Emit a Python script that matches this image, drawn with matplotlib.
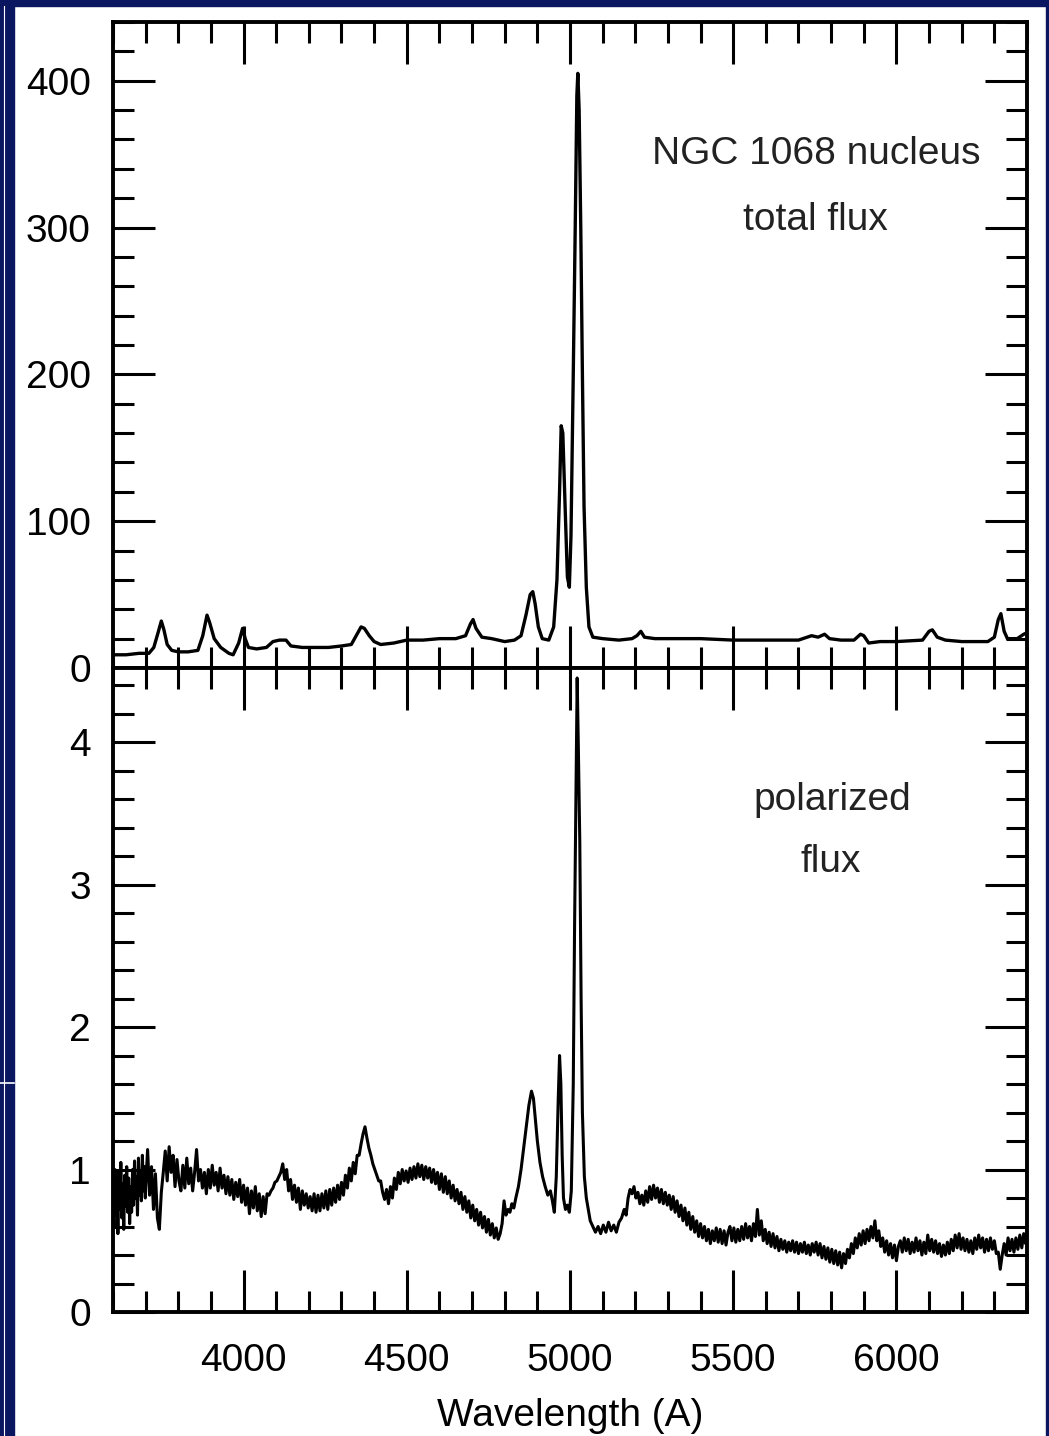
import matplotlib
matplotlib.use("Agg")
from matplotlib import pyplot as plt
from matplotlib.ticker import MultipleLocator
from matplotlib.patches import Rectangle
from matplotlib.lines import Line2D

plt.rcParams['font.family'] = ['Liberation Sans', 'DejaVu Sans']

# total flux spectrum
tot_wave_blue = [3600, 3640, 3680, 3710, 3725, 3738, 3748, 3756, 3766, 3780,
                 3800, 3830, 3860, 3875, 3888, 3896, 3910, 3930, 3955, 3968,
                 3985, 3997, 4005, 4015, 4040, 4070, 4090, 4110, 4130, 4145,
                 4180, 4220, 4260, 4300, 4330, 4345, 4360, 4370, 4385, 4400,
                 4420, 4460, 4500, 4550, 4600, 4650, 4680, 4695, 4703, 4712,
                 4730, 4760, 4800, 4830, 4850, 4865, 4878, 4886, 4893, 4903,
                 4915, 4935]
tot_flux_blue = [9, 9, 10, 10, 14, 24, 32, 26, 16, 12,
                 11, 11, 12, 22, 36, 31, 20, 14, 10, 9,
                 17, 27, 20, 14, 13, 14, 18, 19, 19, 15,
                 14, 14, 14, 15, 16, 22, 28, 27, 22, 18,
                 16, 17, 19, 19, 20, 20, 22, 30, 33, 27,
                 21, 20, 18, 19, 22, 36, 50, 52, 44, 28,
                 20, 19]
tot_wave_oiii = [4950, 4960, 4968, 4973, 4978, 4985, 4992, 4998, 5003, 5010,
                 5016, 5021, 5024, 5028, 5033, 5038, 5043, 5050, 5058, 5070]
tot_flux_oiii = [28, 60, 120, 165, 160, 110, 62, 55, 90, 200,
                 300, 390, 405, 380, 300, 200, 110, 55, 28, 21]
tot_wave_red = [5100, 5150, 5190, 5205, 5217, 5228, 5260, 5300, 5400, 5500,
                5600, 5700, 5740, 5760, 5780, 5795, 5830, 5870, 5890, 5900,
                5915, 5950, 6000, 6080, 6100, 6110, 6125, 6150, 6200, 6280,
                6300, 6312, 6320, 6330, 6340, 6370, 6390, 6400]
tot_flux_red = [20, 19, 20, 22, 25, 21, 20, 20, 20, 19,
                19, 19, 22, 21, 23, 20, 19, 19, 23, 22,
                17, 18, 18, 19, 25, 26, 21, 19, 18, 18,
                21, 33, 37, 25, 20, 20, 23, 24]

# polarized flux spectrum
pol_wave_blue = [3600, 3603, 3606, 3609, 3612, 3615, 3618, 3621, 3624, 3627,
                 3630, 3633, 3636, 3639, 3642, 3645, 3648, 3651, 3654, 3657,
                 3660, 3663, 3666, 3669, 3672, 3675, 3678, 3681, 3684, 3687,
                 3690, 3693, 3696, 3699,
                 3700, 3706, 3712, 3718, 3724, 3730, 3736, 3742, 3748, 3754,
                 3760, 3766, 3772, 3778, 3784, 3790, 3796, 3802, 3808, 3814,
                 3820, 3826, 3832, 3838, 3844, 3850, 3856, 3862, 3868, 3874,
                 3880, 3886, 3892, 3898, 3904, 3910, 3916, 3922, 3928, 3934,
                 3940, 3946, 3952, 3958, 3964, 3970, 3976, 3982, 3988, 3994,
                 4000, 4006, 4012, 4018, 4024, 4030, 4036, 4042, 4048, 4054,
                 4060, 4066, 4072, 4078, 4084, 4090, 4096, 4102, 4108, 4114,
                 4120, 4126, 4132, 4138, 4144, 4150, 4156, 4162, 4168, 4174,
                 4180, 4186, 4192, 4198, 4204, 4210, 4216, 4222, 4228, 4234,
                 4240, 4246, 4252, 4258, 4264, 4270, 4276, 4282, 4288, 4294,
                 4300, 4306, 4312, 4318, 4324, 4330, 4336, 4342, 4348, 4354,
                 4360, 4366, 4372, 4378, 4384, 4390, 4396, 4402, 4408, 4414,
                 4420, 4426, 4432, 4438, 4444, 4450, 4456, 4462, 4468, 4474,
                 4480, 4486, 4492, 4498, 4504, 4510, 4516, 4522, 4528, 4534,
                 4540, 4546, 4552, 4558, 4564, 4570, 4576, 4582, 4588, 4594,
                 4600, 4606, 4612, 4618, 4624, 4630, 4636, 4642, 4648, 4654,
                 4660, 4666, 4672, 4678, 4684, 4690, 4696, 4702, 4708, 4714,
                 4720, 4726, 4732, 4738, 4744, 4750, 4756, 4762, 4768, 4774,
                 4780, 4786, 4792, 4798, 4804, 4810, 4816, 4822, 4828, 4834]
pol_flux_blue = [0.85, 0.60, 1.00, 0.68, 0.92, 0.55, 0.98, 0.72, 1.05, 0.66,
                 0.90, 0.58, 0.96, 0.74, 1.02, 0.70, 0.94, 0.62, 0.88, 0.70,
                 1.00, 0.75, 1.06, 0.80, 0.95, 0.68, 1.08, 0.82, 0.98, 0.78,
                 1.10, 0.85, 1.02, 0.80,
                 0.88, 1.14, 0.82, 1.02, 0.72, 0.97, 0.66, 0.58, 0.84, 0.98,
                 1.13, 0.92, 1.16, 0.98, 1.10, 0.88, 1.07, 0.92, 0.85, 1.03,
                 0.87, 1.08, 0.90, 1.01, 0.85, 0.98, 1.14, 0.92, 1.00, 0.87,
                 0.98, 0.83, 1.00, 0.87, 1.03, 0.89, 0.98, 0.85, 1.01, 0.87,
                 0.96, 0.83, 0.95, 0.82, 0.93, 0.79, 0.91, 0.81, 0.93, 0.77,
                 0.89, 0.75, 0.87, 0.69, 0.85, 0.73, 0.88, 0.71, 0.83, 0.67,
                 0.81, 0.69, 0.83, 0.82, 0.85, 0.87, 0.91, 0.92, 0.95, 0.98,
                 1.04, 0.93, 1.00, 0.85, 0.93, 0.79, 0.89, 0.77, 0.87, 0.72,
                 0.85, 0.75, 0.83, 0.73, 0.81, 0.71, 0.83, 0.70, 0.82, 0.71,
                 0.83, 0.73, 0.85, 0.72, 0.86, 0.75, 0.87, 0.77, 0.89, 0.79,
                 0.91, 0.82, 0.96, 0.87, 1.01, 0.92, 1.05, 0.97, 1.10, 1.10,
                 1.18, 1.25, 1.30, 1.22, 1.15, 1.10, 1.04, 1.00, 0.96, 0.92,
                 0.92, 0.84, 0.79, 0.86, 0.76, 0.88, 0.80, 0.94, 0.86, 0.98,
                 0.90, 1.00, 0.92, 0.99, 0.91, 1.01, 0.93, 1.02, 0.94, 1.04,
                 0.95, 1.03, 0.93, 1.02, 0.94, 1.01, 0.91, 1.00, 0.90, 0.98,
                 0.86, 0.97, 0.84, 0.95, 0.83, 0.92, 0.80, 0.89, 0.78, 0.86,
                 0.76, 0.84, 0.72, 0.81, 0.70, 0.78, 0.66, 0.75, 0.64, 0.72,
                 0.61, 0.70, 0.59, 0.67, 0.56, 0.65, 0.54, 0.62, 0.52, 0.59,
                 0.51, 0.55, 0.62, 0.78, 0.68, 0.72, 0.70, 0.76, 0.73, 0.80]
pol_wave_lines = [4842, 4850, 4858, 4866, 4874, 4882, 4888, 4894, 4900, 4908,
                  4916, 4924, 4932, 4940, 4946, 4952, 4958, 4964, 4968, 4972,
                  4976, 4980, 4986, 4992, 4998, 5004, 5010, 5014, 5018, 5022,
                  5026, 5030, 5034, 5038, 5044, 5050, 5056, 5062, 5070, 5078,
                  5086, 5094, 5102, 5110, 5118, 5126, 5134, 5142, 5150, 5158,
                  5166, 5172, 5178, 5184, 5190, 5196, 5202, 5208, 5214, 5220]
pol_flux_lines = [0.88, 1.00, 1.15, 1.30, 1.45, 1.55, 1.50, 1.35, 1.20, 1.05,
                  0.95, 0.88, 0.82, 0.85, 0.78, 0.70, 0.95, 1.50, 1.80, 1.60,
                  1.10, 0.80, 0.72, 0.75, 0.70, 0.85, 1.60, 2.70, 3.60, 4.45,
                  3.90, 3.30, 2.20, 1.40, 0.95, 0.80, 0.72, 0.64, 0.60, 0.56,
                  0.60, 0.55, 0.61, 0.56, 0.63, 0.57, 0.61, 0.56, 0.63, 0.66,
                  0.72, 0.68, 0.80, 0.86, 0.83, 0.88, 0.80, 0.84, 0.76, 0.82]
pol_wave_red = [5226, 5232, 5238, 5244, 5250, 5256, 5262, 5268, 5274, 5280,
                5286, 5292, 5298, 5304, 5310, 5316, 5322, 5328, 5334, 5340,
                5346, 5352, 5358, 5364, 5370, 5376, 5382, 5388, 5394, 5400,
                5406, 5412, 5418, 5424, 5430, 5436, 5442, 5448, 5454, 5460,
                5466, 5472, 5478, 5484, 5490, 5496, 5502, 5508, 5514, 5520,
                5526, 5532, 5538, 5544, 5550, 5556, 5562, 5568, 5574, 5580,
                5586, 5592, 5598, 5604, 5610, 5616, 5622, 5628, 5634, 5640,
                5646, 5652, 5658, 5664, 5670, 5676, 5682, 5688, 5694, 5700,
                5706, 5712, 5718, 5724, 5730, 5736, 5742, 5748, 5754, 5760,
                5766, 5772, 5778, 5784, 5790, 5796, 5802, 5808, 5814, 5820,
                5826, 5832, 5838, 5844, 5850, 5856, 5862, 5868, 5874, 5880,
                5886, 5892, 5898, 5904, 5910, 5916, 5922, 5928, 5934, 5940,
                5946, 5952, 5958, 5964, 5970, 5976, 5982, 5988, 5994, 6000,
                6006, 6012, 6018, 6024, 6030, 6036, 6042, 6048, 6054, 6060,
                6066, 6072, 6078, 6084, 6090, 6096, 6102, 6108, 6114, 6120,
                6126, 6132, 6138, 6144, 6150, 6156, 6162, 6168, 6174, 6180,
                6186, 6192, 6198, 6204, 6210, 6216, 6222, 6228, 6234, 6240,
                6246, 6252, 6258, 6264, 6270, 6276, 6282, 6288, 6294, 6300,
                6306, 6312, 6318, 6324, 6330, 6336, 6342, 6348, 6354, 6360,
                6366, 6372, 6378, 6384, 6390, 6396, 6400]
pol_flux_red = [0.75, 0.85, 0.77, 0.88, 0.79, 0.89, 0.80, 0.87, 0.77, 0.86,
                0.76, 0.84, 0.75, 0.82, 0.72, 0.81, 0.70, 0.78, 0.67, 0.75,
                0.64, 0.73, 0.61, 0.70, 0.58, 0.67, 0.56, 0.64, 0.53, 0.62,
                0.52, 0.60, 0.50, 0.58, 0.48, 0.57, 0.50, 0.59, 0.49, 0.58,
                0.48, 0.57, 0.47, 0.56, 0.60, 0.50, 0.59, 0.49, 0.58, 0.50,
                0.60, 0.51, 0.62, 0.52, 0.60, 0.50, 0.62, 0.53, 0.72, 0.54,
                0.64, 0.50, 0.58, 0.48, 0.56, 0.46, 0.55, 0.45, 0.53, 0.43,
                0.51, 0.44, 0.50, 0.42, 0.49, 0.43, 0.50, 0.42, 0.49, 0.41,
                0.48, 0.42, 0.49, 0.41, 0.47, 0.40, 0.48, 0.42, 0.49, 0.40,
                0.48, 0.38, 0.46, 0.37, 0.45, 0.35, 0.44, 0.34, 0.43, 0.33,
                0.42, 0.31, 0.41, 0.34, 0.44, 0.38, 0.48, 0.41, 0.52, 0.45,
                0.55, 0.47, 0.57, 0.48, 0.58, 0.50, 0.60, 0.52, 0.64, 0.50,
                0.57, 0.46, 0.52, 0.42, 0.50, 0.40, 0.48, 0.38, 0.47, 0.36,
                0.46, 0.50, 0.42, 0.52, 0.43, 0.51, 0.41, 0.49, 0.42, 0.52,
                0.43, 0.50, 0.40, 0.49, 0.41, 0.54, 0.43, 0.51, 0.42, 0.50,
                0.41, 0.48, 0.39, 0.47, 0.40, 0.49, 0.41, 0.51, 0.43, 0.54,
                0.45, 0.55, 0.44, 0.52, 0.43, 0.51, 0.42, 0.50, 0.41, 0.52,
                0.44, 0.54, 0.45, 0.52, 0.42, 0.51, 0.43, 0.52, 0.44, 0.50,
                0.41, 0.42, 0.30, 0.40, 0.48, 0.40, 0.52, 0.43, 0.51, 0.42,
                0.52, 0.44, 0.54, 0.45, 0.55, 0.48, 0.57]

tot_wave = tot_wave_blue + tot_wave_oiii + tot_wave_red
tot_flux = tot_flux_blue + tot_flux_oiii + tot_flux_red
pol_wave = pol_wave_blue + pol_wave_lines + pol_wave_red
pol_flux = pol_flux_blue + pol_flux_lines + pol_flux_red

W, H = 1049, 1436
fig = plt.figure(figsize=(W / 100, H / 100), dpi=100)
fig.patch.set_facecolor('white')

# dark slide background peeking around the edges
navy = '#0b1660'
fig.add_artist(Rectangle((0, 0), 14 / W, 1, transform=fig.transFigure, color=navy, zorder=-5))
fig.add_artist(Rectangle((0, 1 - 6 / H), 1, 6 / H, transform=fig.transFigure, color=navy, zorder=-5))
fig.add_artist(Rectangle((1 - 3 / W, 0), 3 / W, 1, transform=fig.transFigure, color=navy, zorder=-5))
fig.add_artist(Line2D([4 / W, 4 / W], [0, 1 - 6 / H], transform=fig.transFigure, color='white', lw=0.8))
fig.add_artist(Line2D([0, 14 / W], [1 - 1083 / H, 1 - 1083 / H], transform=fig.transFigure,
                      color='white', lw=1.2))

left = 113 / W
width = (1027 - 113) / W
ax1 = fig.add_axes([left, 1 - 668 / H, width, (668 - 22) / H])
ax2 = fig.add_axes([left, 1 - 1312 / H, width, (1312 - 668) / H])

ax1.plot(tot_wave, tot_flux, color='black', lw=2.4)
ax2.plot(pol_wave, pol_flux, color='black', lw=2.2)

ax1.set_ylim(0, 440)
ax2.set_ylim(0, 4.52)
ax1.yaxis.set_major_locator(MultipleLocator(100))
ax1.yaxis.set_minor_locator(MultipleLocator(20))
ax2.yaxis.set_major_locator(MultipleLocator(1))
ax2.yaxis.set_minor_locator(MultipleLocator(0.2))

for ax in (ax1, ax2):
    ax.set_xlim(3600, 6400)
    ax.xaxis.set_major_locator(MultipleLocator(500))
    ax.xaxis.set_minor_locator(MultipleLocator(100))
    ax.tick_params(which='both', direction='in', top=True, right=True,
                   width=2.2, labelsize=28, colors='black')
    ax.tick_params(which='major', length=30)
    ax.tick_params(which='minor', length=15)
    ax.tick_params(axis='y', pad=16)
    ax.tick_params(axis='x', pad=22)
    for s in ax.spines.values():
        s.set_linewidth(2.8)

ax1.tick_params(labelbottom=False)
ax2.set_xlabel('Wavelength (A)', fontsize=28, labelpad=14)

ax1.text(0.769, 0.795, 'NGC 1068 nucleus', transform=ax1.transAxes,
         ha='center', va='center', fontsize=28, color='#222222')
ax1.text(0.768, 0.694, 'total flux', transform=ax1.transAxes,
         ha='center', va='center', fontsize=28, color='#222222')
ax2.text(0.787, 0.795, 'polarized', transform=ax2.transAxes,
         ha='center', va='center', fontsize=28, color='#222222')
ax2.text(0.785, 0.699, 'flux', transform=ax2.transAxes,
         ha='center', va='center', fontsize=28, color='#222222')

plt.savefig('out.png', dpi=100)
